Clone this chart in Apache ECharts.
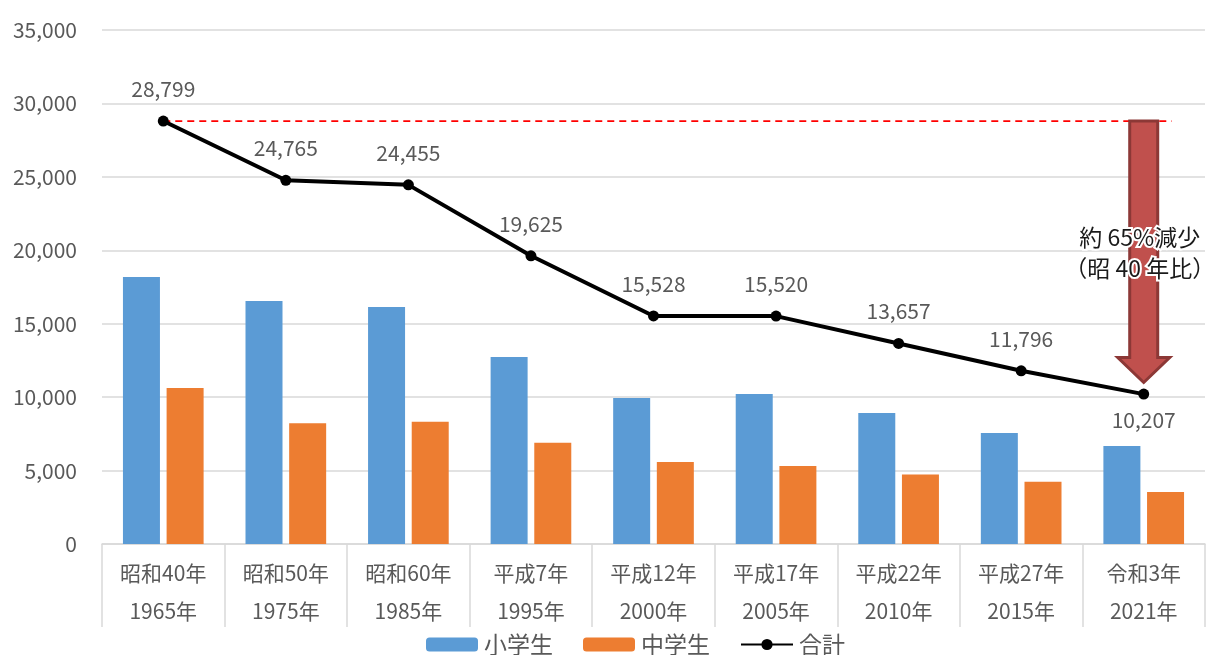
<!DOCTYPE html>
<html><head><meta charset="utf-8">
<script src="https://cdn.jsdelivr.net/npm/echarts@6/dist/echarts.min.js"></script>
<style>html,body{margin:0;padding:0;background:#fff}#c{width:1208px;height:655px}</style>
</head><body><div id="c"></div>
<script>
const eraLabels = ['昭和40年','昭和50年','昭和60年','平成7年','平成12年','平成17年','平成22年','平成27年','令和3年'];
const yearLabels = ['1965年','1975年','1985年','1995年','2000年','2005年','2010年','2015年','2021年'];
const elementary = [18180, 16546, 16138, 12733, 9942, 10214, 8920, 7558, 6673];
const juniorHigh = [10619, 8219, 8317, 6892, 5586, 5306, 4737, 4238, 3534];
const total = [28799, 24765, 24455, 19625, 15528, 15520, 13657, 11796, 10207];
const arrowData = [[8, 28799, 11000]];
const annotation = '約 65%減少\n（昭 40 年比）';

const FONT = '"Noto Sans CJK JP", "Noto Sans", sans-serif';
const categories = eraLabels.map((e, i) => e + '\n' + yearLabels[i]);
const chart = echarts.init(document.getElementById('c'), null, {renderer: 'canvas'});
const lineData = total.map((v, i) => i === total.length - 1
  ? {value: v, label: {position: 'bottom', distance: 10}} : v);
chart.setOption({
  animation: false,
  textStyle: {fontFamily: FONT},
  grid: {left: 102, right: 3, top: 30, bottom: 111, containLabel: false},
  legend: {
    top: 633, left: 426, padding: 0, itemWidth: 52, itemHeight: 14, itemGap: 30,
    textStyle: {fontSize: 23, color: '#595959', fontFamily: FONT, padding: [0, 0, 0, 1]},
    data: ['小学生', '中学生', '合計']
  },
  xAxis: {
    type: 'category', data: categories, boundaryGap: true,
    axisLine: {lineStyle: {color: '#D9D9D9', width: 1.5}},
    axisTick: {show: true, length: 83, lineStyle: {color: '#D9D9D9', width: 1.5}},
    axisLabel: {fontSize: 21, color: '#595959', lineHeight: 38, margin: 10, interval: 0, fontFamily: FONT}
  },
  yAxis: {
    type: 'value', min: 0, max: 35000, interval: 5000,
    axisLine: {show: false}, axisTick: {show: false},
    splitLine: {lineStyle: {color: '#D9D9D9', width: 1.5}},
    axisLabel: {fontSize: 21, color: '#595959', margin: 25, fontFamily: FONT,
      formatter: v => v.toLocaleString('en-US')}
  },
  series: [
    {name: '小学生', type: 'bar', data: elementary, barWidth: 37, barGap: '18%',
     itemStyle: {color: '#5B9BD5'}},
    {name: '中学生', type: 'bar', data: juniorHigh, barWidth: 37,
     itemStyle: {color: '#ED7D31'}},
    {name: 'annot', type: 'custom', z: 3, silent: true, data: arrowData,
     renderItem: (params, api) => {
       const top = api.coord([api.value(0), api.value(1)]);
       const bot = api.coord([api.value(0), api.value(2)]);
       const start = api.coord([0, api.value(1)]);
       const cx = top[0];
       const bw = 14, hw = 26, hh = 25;
       const ty = top[1], by = bot[1];
       return {type: 'group', children: [
         {type: 'line', shape: {x1: start[0], y1: ty, x2: cx + 28, y2: ty},
          style: {stroke: '#FF0000', lineWidth: 1.8, lineDash: [7, 5]}},
         {type: 'polygon', shape: {points: [
           [cx - bw, ty], [cx + bw, ty], [cx + bw, by - hh], [cx + hw, by - hh],
           [cx, by], [cx - hw, by - hh], [cx - bw, by - hh]]},
          style: {fill: '#C0504D', stroke: '#8C3836', lineWidth: 3}},
         {type: 'text', x: cx - 4, y: (ty + by) / 2 + 1,
          style: {text: annotation, fontSize: 23, lineHeight: 31, fill: '#1a1a1a',
            align: 'center', verticalAlign: 'middle', fontFamily: FONT,
            stroke: '#fff', lineWidth: 4}}
       ]};
     }},
    {name: '合計', type: 'line', data: lineData, z: 5,
     symbol: 'circle', symbolSize: 11,
     lineStyle: {color: '#000', width: 4}, itemStyle: {color: '#000'},
     label: {show: true, position: 'top', distance: 16, fontSize: 21, color: '#595959',
       fontFamily: FONT, formatter: p => p.value.toLocaleString('en-US')},
     emphasis: {disabled: true}}
  ]
});
</script></body></html>
